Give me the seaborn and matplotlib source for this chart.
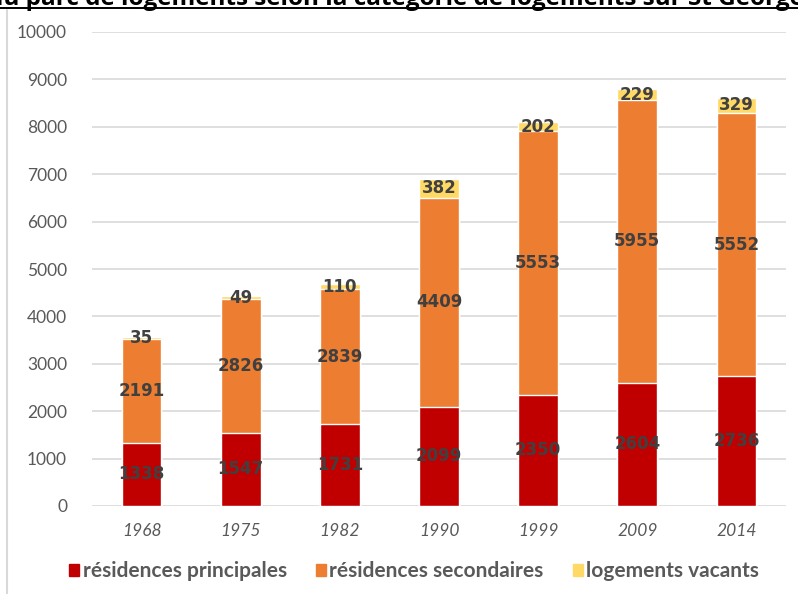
import matplotlib
matplotlib.use("Agg")
import matplotlib.pyplot as plt
from matplotlib import lines, patches
import seaborn as sns
import pandas as pd

# data
years = ["1968", "1975", "1982", "1990", "1999", "2009", "2014"]
principales = [1338, 1547, 1731, 2099, 2350, 2604, 2736]
secondaires = [2191, 2826, 2839, 4409, 5553, 5955, 5552]
vacants = [35, 49, 110, 382, 202, 229, 329]
series_names = ["résidences principales", "résidences secondaires", "logements vacants"]

RED = "#C00000"
ORANGE = "#ED7D31"
YELLOW = "#FFD966"
GREY_TXT = "#595959"
LABEL = "#404040"
GRID = "#D9D9D9"

df = pd.DataFrame({"year": years, "p": principales, "s": secondaires, "v": vacants})
df["ps"] = df["p"] + df["s"]
df["total"] = df["ps"] + df["v"]

sns.set_style("white")
plt.rcParams["font.family"] = ["Lato", "DejaVu Sans"]

fig = plt.figure(figsize=(7.98, 5.94), dpi=100)
ax = fig.add_axes([92 / 798, 1 - 506 / 594, (786 - 92) / 798, (506 - 32) / 594])

# stacked bars: draw cumulative heights, tallest first
sns.barplot(data=df, x="year", y="total", color=YELLOW, width=0.4, saturation=1, ax=ax, zorder=2)
sns.barplot(data=df, x="year", y="ps", color=ORANGE, width=0.4, saturation=1, ax=ax, zorder=3)
sns.barplot(data=df, x="year", y="p", color=RED, width=0.4, saturation=1, ax=ax, zorder=4)

ax.set_ylim(0, 10000)
ax.set_xlim(-0.5, len(years) - 0.5)
ax.set_yticks(range(0, 10001, 1000))
ax.grid(axis="y", color=GRID, lw=1.2, zorder=0)
ax.grid(axis="x", visible=False)
ax.set_axisbelow(True)
for s in ax.spines.values():
    s.set_visible(False)
ax.set_xlabel("")
ax.set_ylabel("")
ax.tick_params(axis="y", length=0, pad=18, labelsize=12.5, labelcolor=GREY_TXT)
ax.tick_params(axis="x", length=0, pad=12, labelsize=12.5, labelcolor=GREY_TXT)
for t in ax.get_xticklabels():
    t.set_fontstyle("italic")

# labels centered in each segment
for i in range(len(years)):
    p, s, v = principales[i], secondaires[i], vacants[i]
    for val, mid in [(p, p / 2), (s, p + s / 2), (v, p + s + v / 2)]:
        ax.text(i, mid, str(val), ha="center", va="center", fontsize=12,
                fontweight="bold", color=LABEL, family="DejaVu Sans", zorder=6)

# title, cut at the top of the image
fig.text(-12 / 798, 1 - 5 / 594,
         "du parc de logements selon la catégorie de logements sur St Georges",
         ha="left", va="baseline", fontsize=17.5, fontweight="bold", color="black",
         family="Open Sans")
fig.add_artist(lines.Line2D([0, 1], [1 - 7.5 / 594, 1 - 7.5 / 594], color="black", lw=1.4,
                            transform=fig.transFigure))
fig.add_artist(lines.Line2D([7 / 798, 7 / 798], [0, 1 - 10 / 594], color=GRID, lw=1.5,
                            transform=fig.transFigure))

handles = [patches.Patch(color=c) for c in [RED, ORANGE, YELLOW]]
leg = fig.legend(handles, series_names, loc="center", bbox_to_anchor=(0.519, 1 - 571 / 594),
                 ncol=3, frameon=False, handlelength=0.5, handleheight=0.5,
                 handletextpad=0.15, columnspacing=1.4,
                 prop={"size": 15, "weight": "bold"})
for t in leg.get_texts():
    t.set_color(GREY_TXT)

fig.savefig("out.png", dpi=100)
